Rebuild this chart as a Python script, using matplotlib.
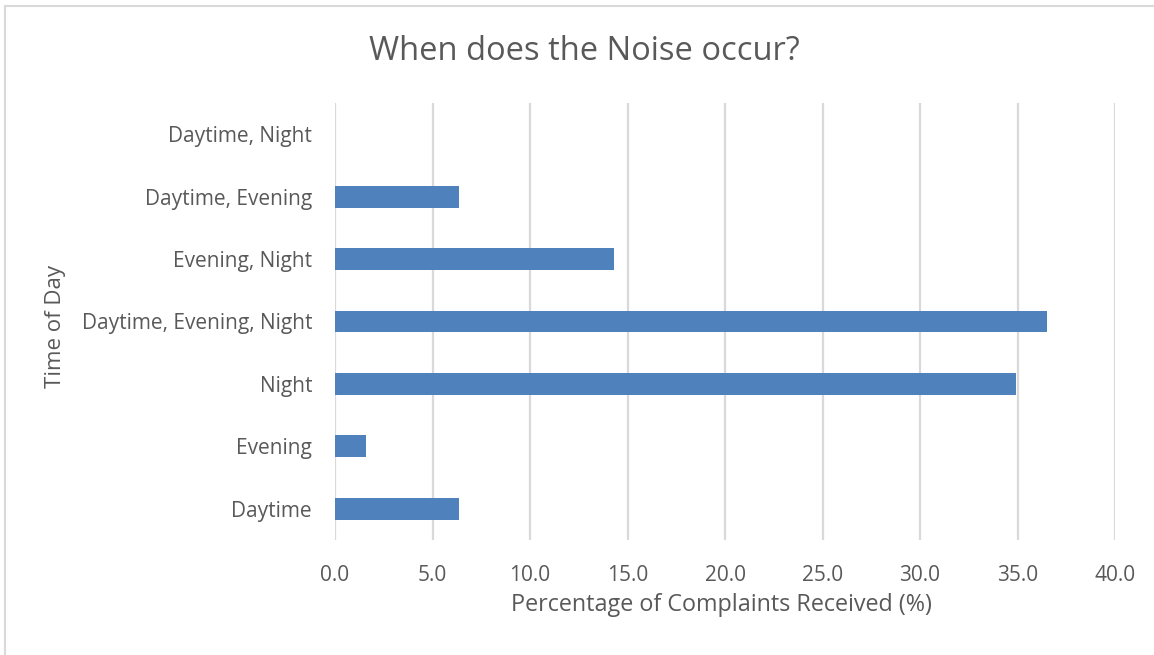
import matplotlib.pyplot as plt
from matplotlib.lines import Line2D

# complaint shares by time of day (bottom to top as drawn)
categories = ["Daytime", "Evening", "Night", "Daytime, Evening, Night",
              "Evening, Night", "Daytime, Evening", "Daytime, Night"]
percent = [6.35, 1.59, 34.92, 36.51, 14.29, 6.35, 0.0]
xticks = [0, 5, 10, 15, 20, 25, 30, 35, 40]

plt.rcParams['font.family'] = ['Open Sans', 'DejaVu Sans']
grey = '#595959'

fig = plt.figure(figsize=(11.54, 6.55), dpi=100)
ax = fig.add_axes([335 / 1154, 1 - 540 / 655, 780 / 1154, 437 / 655])

ax.barh(range(len(categories)), percent, height=0.35, color='#4F81BD',
        linewidth=0, zorder=3)

ax.set_xlim(0, 40)
ax.set_ylim(-0.5, len(categories) - 0.5)
ax.set_xticks(xticks)
ax.set_xticklabels([f"{v:.1f}" for v in xticks])
ax.set_yticks(range(len(categories)))
ax.set_yticklabels(categories)
ax.tick_params(axis='both', length=0, colors=grey, labelsize=15)
ax.tick_params(axis='x', pad=18)
ax.tick_params(axis='y', pad=16.5)
ax.xaxis.grid(True, color='#D9D9D9', linewidth=1.6, zorder=0)
for s in ax.spines.values():
    s.set_visible(False)

fig.text(721 / 1154, 1 - 605 / 655, "Percentage of Complaints Received (%)",
         color=grey, fontsize=16.8, ha='center', va='center')
fig.text(55 / 1154, 1 - 326 / 655, "Time of Day", color=grey, fontsize=16,
         rotation=90, ha='center', va='center')
fig.text(584 / 1154, 1 - 51 / 655, "When does the Noise occur?", color=grey,
         fontsize=23.5, ha='center', va='center')

# chart border: only the top and left edges show in the crop
x0, y0 = 5 / 1154, 1 - 6 / 655
fig.lines.append(Line2D([x0, 1], [y0, y0], transform=fig.transFigure,
                        color='#D9D9D9', linewidth=1.5))
fig.lines.append(Line2D([x0, x0], [0, y0], transform=fig.transFigure,
                        color='#D9D9D9', linewidth=1.5))

fig.savefig("out.png", dpi=100)
